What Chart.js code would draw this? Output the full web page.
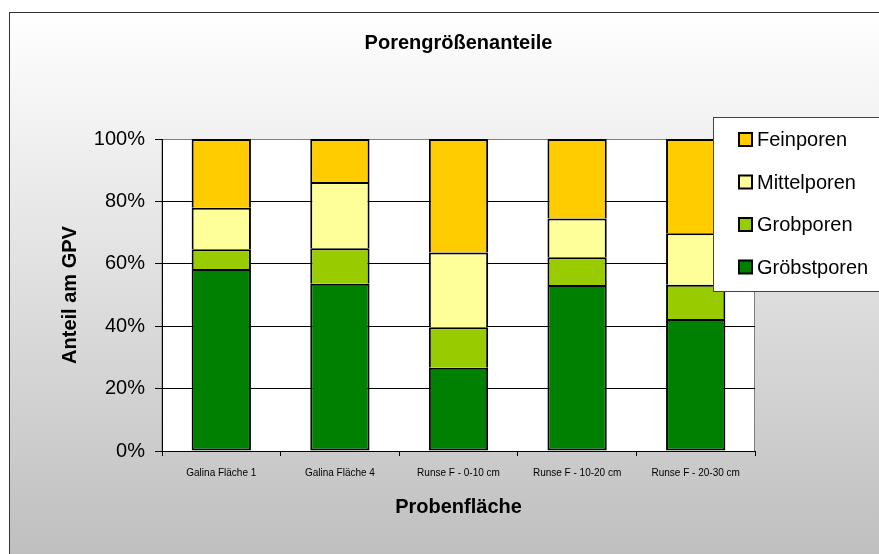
<!DOCTYPE html>
<html>
<head>
<meta charset="utf-8">
<title>Porengrößenanteile</title>
<script src="https://cdn.jsdelivr.net/npm/chart.js@4.4.1/dist/chart.umd.min.js"></script>
<style>
    html, body { margin: 0; padding: 0; background: #fff; }
    #wrap { width: 879px; height: 554px; }
</style>
</head>
<body>
<div id="wrap"><canvas id="poreChart" width="879" height="554"></canvas></div>
<script>
// Probenflächen und Anteile (% vom GPV), von unten nach oben gestapelt
const categories = ["Galina Fläche 1", "Galina Fläche 4", "Runse F - 0-10 cm", "Runse F - 10-20 cm", "Runse F - 20-30 cm"];
const groebstporen = [58.3, 53.6, 26.7, 53.2, 42.3];
const grobporen = [6.4, 11.4, 13.0, 8.9, 11.0];
const mittelporen = [13.3, 21.2, 23.9, 12.4, 16.5];
const feinporen = [22.0, 13.8, 36.4, 25.5, 30.2];
const yTicks = [0, 20, 40, 60, 80, 100];

Chart.defaults.font.family = "'Liberation Sans', Arial, sans-serif";
Chart.defaults.color = '#000';

// background gradient, frame and plot area
const framePlugin = {
    id: 'frame',
    beforeDraw(chart) {
        const ctx = chart.ctx;
        const area = chart.chartArea;
        ctx.save();
        ctx.fillStyle = '#fff';
        ctx.fillRect(0, 0, chart.width, chart.height);
        const grad = ctx.createLinearGradient(0, 12, 0, chart.height);
        grad.addColorStop(0, '#ffffff');
        grad.addColorStop(1, '#bfbfbf');
        ctx.fillStyle = grad;
        ctx.fillRect(9, 12, chart.width, chart.height);
        ctx.strokeStyle = '#333';
        ctx.lineWidth = 1;
        ctx.strokeRect(9.5, 12.5, chart.width + 10, chart.height + 10);
        ctx.fillStyle = '#fff';
        ctx.fillRect(area.left, area.top, area.right - area.left, area.bottom - area.top);
        ctx.strokeStyle = '#808080';
        ctx.strokeRect(area.left, area.top + 0.5, area.right - area.left - 0.5, area.bottom - area.top);
        ctx.restore();
    },
    afterDraw(chart) {
        // legend box, reversed order like the original
        const ctx = chart.ctx;
        const sets = chart.data.datasets.slice().reverse();
        ctx.save();
        ctx.fillStyle = '#fff';
        ctx.fillRect(713, 117, 200, 174);
        ctx.strokeStyle = '#444';
        ctx.lineWidth = 1;
        ctx.strokeRect(713.5, 117.5, 200, 174);
        ctx.font = "20px 'Liberation Sans', Arial, sans-serif";
        ctx.textBaseline = 'middle';
        sets.forEach((ds, i) => {
            const y = 139.5 + i * 42.5;
            ctx.fillStyle = ds.backgroundColor;
            ctx.fillRect(739, y - 6.5, 13, 13);
            ctx.strokeStyle = '#000';
            ctx.lineWidth = 2;
            ctx.strokeRect(739, y - 6.5, 13, 13);
            ctx.fillStyle = '#000';
            ctx.fillText(ds.label, 757, y + 1);
        });
        ctx.restore();
    }
};

const data = {
    labels: categories,
    datasets: [
        { label: 'Gröbstporen', data: groebstporen, backgroundColor: '#008000' },
        { label: 'Grobporen', data: grobporen, backgroundColor: '#99cc00' },
        { label: 'Mittelporen', data: mittelporen, backgroundColor: '#ffff99' },
        { label: 'Feinporen', data: feinporen, backgroundColor: '#ffcc00' }
    ].map((ds, i) => Object.assign(ds, {
        borderColor: '#000',
        borderWidth: { top: 2, left: 2, right: 2, bottom: i === 0 ? 2 : 0 },
        borderSkipped: false,
        barPercentage: 0.5,
        categoryPercentage: 1
    }))
};

const config = {
    type: 'bar',
    data: data,
    plugins: [framePlugin],
    options: {
        responsive: false,
        animation: false,
        layout: { padding: { left: 0, right: 124, top: 0, bottom: 0 } },
        plugins: {
            legend: { display: false },
            tooltip: { enabled: false },
            title: {
                display: true,
                fullSize: false,
                text: 'Porengrößenanteile',
                font: { size: 20, weight: 'bold' },
                padding: { top: 31, bottom: 84 }
            }
        },
        scales: {
            x: {
                stacked: true,
                afterFit: s => { s.height = 103; },
                grid: { display: true, drawOnChartArea: false, drawTicks: true, tickLength: 5, color: '#000', offset: true },
                border: { color: '#000', width: 1 },
                ticks: { font: { size: 10 }, padding: 11, maxRotation: 0, autoSkip: false },
                title: {
                    display: true,
                    text: 'Probenfläche',
                    font: { size: 20, weight: 'bold' },
                    padding: { top: 0, bottom: 35 }
                }
            },
            y: {
                stacked: true,
                min: 0,
                max: 100,
                afterFit: s => { s.width = 162; },
                afterBuildTicks: s => { s.ticks = yTicks.map(v => ({ value: v })); },
                grid: {
                    color: c => (c.tick && c.tick.value === 100 ? '#808080' : '#000'),
                    tickLength: 7,
                    tickColor: '#000'
                },
                border: { color: '#000', width: 1 },
                ticks: { font: { size: 20 }, padding: 10, callback: v => v + '%' },
                title: {
                    display: true,
                    text: 'Anteil am GPV',
                    font: { size: 20, weight: 'bold' },
                    padding: { top: 58, bottom: 0 }
                }
            }
        }
    }
};

new Chart(document.getElementById('poreChart').getContext('2d'), config);
</script>
</body>
</html>
